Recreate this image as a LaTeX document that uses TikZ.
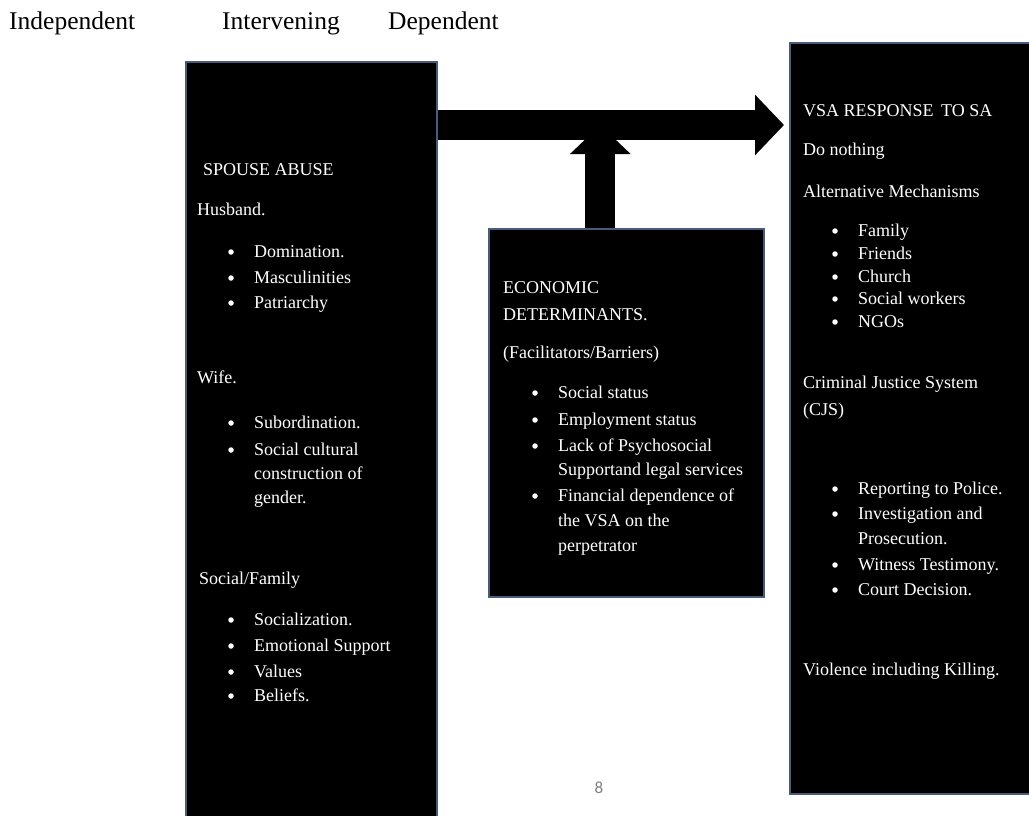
\documentclass[tikz,border=0pt]{standalone}
\usepackage{fontspec}
\setmainfont{Liberation Serif}
\newfontfamily\pagefont{Carlito}
\usetikzlibrary{positioning,arrows.meta}

\definecolor{boxedge}{RGB}{72,92,122}
\tikzset{
  box/.style={draw=boxedge, line width=1.6pt, fill=black, anchor=north west, inner sep=0pt},
  txt/.style={anchor=base west, inner sep=0pt, text=white, font=\fontsize{18}{21}\selectfont, yshift=-5.5pt},
  dot/.style={circle, fill=white, inner sep=0pt, minimum size=5.5pt},
  hdr/.style={anchor=base west, inner sep=0pt, font=\fontsize{25.5}{30}\selectfont},
  bigarrow/.style={line width=30pt, -{Triangle[length=29pt,width=59pt]}},
}

\begin{document}
\begin{tikzpicture}[x=1pt,y=-1pt]
  \useasboundingbox (0,0) rectangle (1029,816);
  \clip (0,0) rectangle (1029,816);
  % column headings
  \node[hdr] (indep) at (9,30) {Independent};
  \node[hdr] (interv) at (222,30) {Intervening};
  \node[hdr] (dep) at (388,30) {Dependent};
  % the three boxes
  \node[box, minimum width=251pt, minimum height=780pt] (abuse) at (185,61) {};
  \node[box, minimum width=275pt, minimum height=368pt] (econ) at (488,228) {};
  \node[box, minimum width=260pt, minimum height=751pt] (resp) at (789,42) {};
  % block arrows
  \coordinate (hmid) at (0,125);
  \coordinate (up) at ([xshift=-26pt]econ.north);
  \draw[bigarrow] (up) -- (up |- hmid);
  \draw[bigarrow] (abuse.east |- hmid) -- ([xshift=-5pt]resp.west |- hmid);
  % spouse abuse
  \node[txt] (sa) at (203,170) {SPOUSE ABUSE};
  \node[txt] (hus) at (197,210) {Husband.};
  \foreach \y/\t [count=\i] in {252/Domination., 278/Masculinities, 303/Patriarchy}
    \node[txt] (hi\i) at (254,\y) {\t};
  \foreach \y [count=\i] in {252,278,303}
    \node[dot] (hb\i) at (231,\y) {};
  \node[txt] (wife) at (197,378) {Wife.};
  \foreach \y/\t [count=\i] in {423/Subordination., 450/Social cultural, 474/construction of, 498/gender.}
    \node[txt] (wi\i) at (254,\y) {\t};
  \foreach \y [count=\i] in {423,450}
    \node[dot] (wb\i) at (231,\y) {};
  \node[txt] (fam) at (199,579) {Social/Family};
  \foreach \y/\t [count=\i] in {620/Socialization., 646/Emotional Support, 672/Values, 696/Beliefs.}
    \node[txt] (fi\i) at (254,\y) {\t};
  \foreach \y [count=\i] in {620,646,672,696}
    \node[dot] (fb\i) at (231,\y) {};
  % economic determinants
  \node[txt] (eco1) at (503,288) {ECONOMIC};
  \node[txt] (eco2) at (503,315) {DETERMINANTS.};
  \node[txt] (fac) at (503,353) {(Facilitators/Barriers)};
  \foreach \y/\t [count=\i] in {393/Social status, 420/Employment status, 446/Lack of Psychosocial, 470/Supportand legal services, 496/Financial dependence of, 521/the VSA on the, 546/perpetrator}
    \node[txt] (ei\i) at (558,\y) {\t};
  \foreach \y [count=\i] in {393,420,446,496}
    \node[dot] (eb\i) at (535,\y) {};
  % VSA response
  \node[txt] (vsa) at (803,111) {VSA RESPONSE\, TO SA};
  \node[txt] (none) at (803,150) {Do nothing};
  \node[txt] (alt) at (803,192) {Alternative Mechanisms};
  \foreach \y/\t [count=\i] in {231/Family, 254/Friends, 277/Church, 299/Social workers, 322/NGOs}
    \node[txt] (ai\i) at (858,\y) {\t};
  \foreach \y [count=\i] in {231,254,277,299,322}
    \node[dot] (ab\i) at (835,\y) {};
  \node[txt] (cjs1) at (803,383) {Criminal Justice System};
  \node[txt] (cjs2) at (803,410) {(CJS)};
  \foreach \y/\t [count=\i] in {489/Reporting to Police., 514/Investigation and, 539/Prosecution., 565/Witness Testimony., 590/Court Decision.}
    \node[txt] (ci\i) at (858,\y) {\t};
  \foreach \y [count=\i] in {489,514,565,590}
    \node[dot] (cb\i) at (835,\y) {};
  \node[txt] (kill) at (803,670) {Violence including Killing.};
  % page number
  \node[font=\pagefont\fontsize{17}{19}\selectfont, text=gray, inner sep=0pt] (pg) at (599,788) {8};
\end{tikzpicture}
\end{document}
